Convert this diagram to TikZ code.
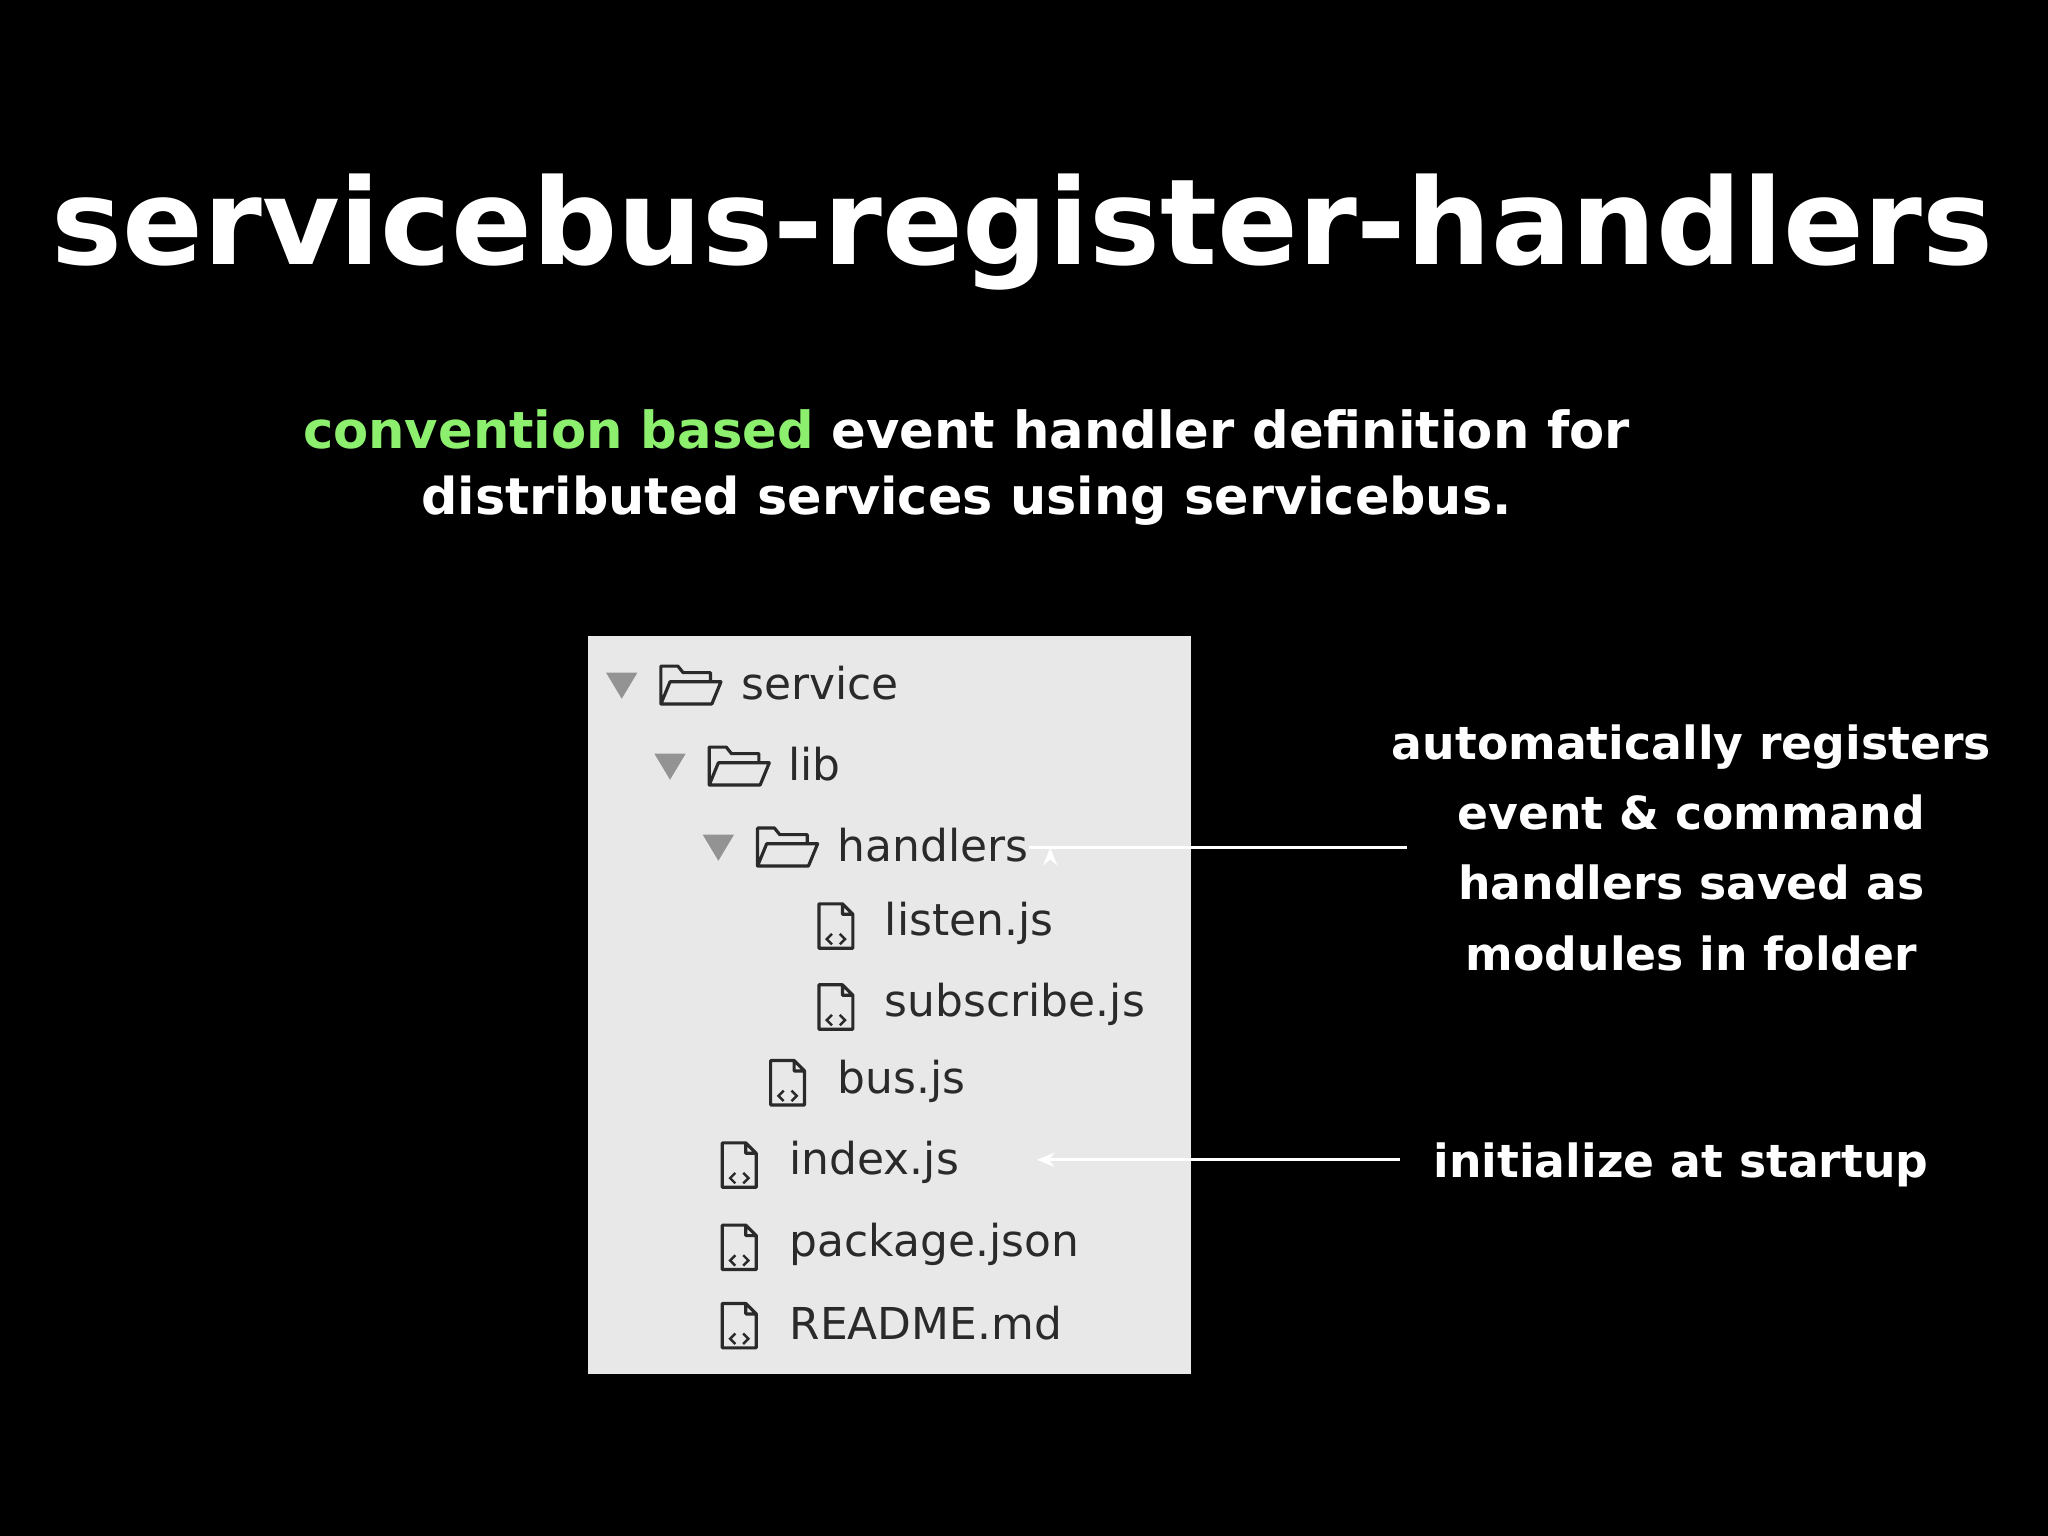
\documentclass[tikz,border=0pt]{standalone}
\usepackage{fontspec}
\setmainfont{DejaVu Sans}
\usetikzlibrary{arrows.meta}
\definecolor{panelbg}{HTML}{E8E8E8}
\definecolor{treetxt}{HTML}{2A2A2A}
\definecolor{greenhl}{HTML}{8CF06E}
\tikzset{
  treelbl/.style={anchor=west,inner sep=0pt,text=treetxt,font=\fontsize{12.5}{14}\selectfont},
  note/.style={text=white,font=\bfseries\fontsize{13}{20}\selectfont,align=center},
  ptr/.style={draw=white,line width=0.8pt,-{Stealth[length=5pt,width=4pt]}},
  icon/.style={draw=treetxt,line width=0.9pt,line join=round}
}
\newcommand{\tri}[2]{\fill[gray!85] (#1-12,#2-8) -- (#1+12,#2-8) -- (#1,#2+12) -- cycle;}
\newcommand{\fold}[2]{\draw[icon] (#1-22,#2+15) -- (#1-22,#2-14) -- (#1-9,#2-14) -- (#1-5,#2-9) -- (#1+16,#2-9) -- (#1+16,#2-2) (#1-22,#2+15) -- (#1-15,#2-2) -- (#1+24,#2-2) -- (#1+17,#2+15) -- cycle;}
\newcommand{\file}[2]{\draw[icon] (#1-13,#2-17) -- (#1+5,#2-17) -- (#1+13,#2-9) -- (#1+13,#2+17) -- (#1-13,#2+17) -- cycle (#1+5,#2-17) -- (#1+5,#2-9) -- (#1+13,#2-9);
 \draw[treetxt,line width=0.7pt] (#1-3,#2+6) -- (#1-7,#2+10) -- (#1-3,#2+14) (#1+3,#2+6) -- (#1+7,#2+10) -- (#1+3,#2+14);}
\begin{document}
\begin{tikzpicture}[x=0.013061cm,y=-0.013061cm]
\fill[black] (0,0) rectangle (1568,1176);
\node[text=white,inner sep=0pt] (title) at (783,178) {\resizebox{19.42cm}{!}{\bfseries servicebus-register-handlers}};
\node[text=white,inner sep=0pt] (sub1) at (740,329) {\resizebox{13.27cm}{!}{\bfseries\textcolor{greenhl}{convention based} event handler definition for}};
\node[text=white,inner sep=0pt] (sub2) at (740,383) {\resizebox{10.9cm}{!}{\bfseries distributed services using servicebus.}};
\fill[panelbg] (450,487) rectangle (912,1052);
\tri{476}{523}\fold{528}{524}\node[treelbl] (service) at (567,523) {service};
\tri{513}{585}\fold{565}{586}\node[treelbl] (lib) at (603,585) {lib};
\tri{550}{647}\fold{602}{648}\node[treelbl] (handlers) at (641,647) {handlers};
\file{640}{709}\node[treelbl] (listen) at (677,707) {listen.js};
\file{640}{771}\node[treelbl] (subscribe) at (677,769) {subscribe.js};
\file{603}{829}\node[treelbl] (bus) at (641,828) {bus.js};
\file{566}{892}\node[treelbl] (index) at (604,890) {index.js};
\file{566}{955}\node[treelbl] (package) at (604,953) {package.json};
\file{566}{1015}\node[treelbl] (readme) at (604,1013) {README.md};
\node[note] (n1) at (1295,649) {automatically registers\\event \& command\\handlers saved as\\modules in folder};
\node[note,anchor=west] (n2) at (1088,892) {initialize at startup};
\coordinate (a1) at (1077,649);
\coordinate (a2) at (1072,888);
\draw[ptr] (a1) -- (handlers.east|-a1) ++(16,0);
\draw[ptr] (a2) -- ([xshift=22]index.east|-a2);
\end{tikzpicture}
\end{document}
